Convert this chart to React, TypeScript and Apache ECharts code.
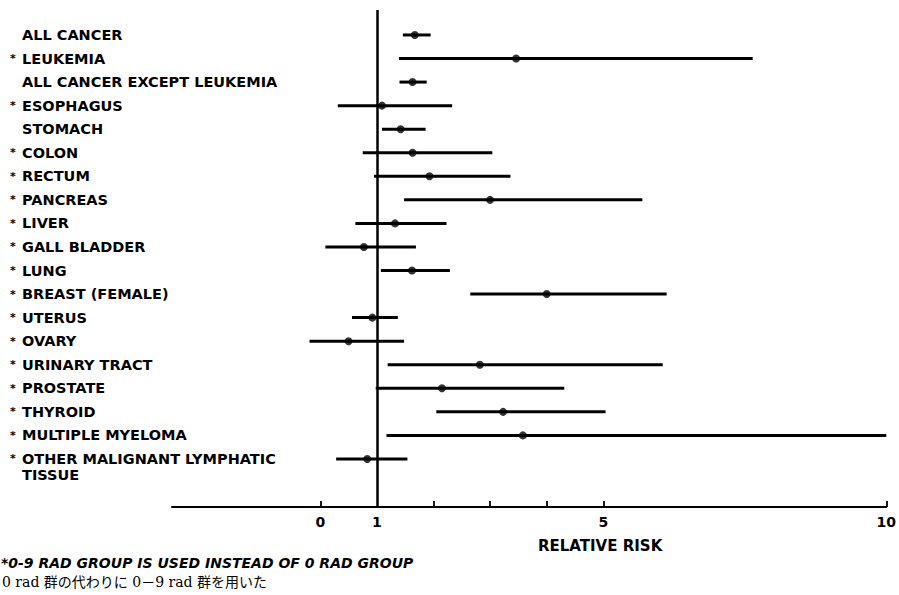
import React, { useEffect, useRef } from "react";
import * as echarts from "echarts";

const categories = [
  "ALL CANCER",
  "LEUKEMIA",
  "ALL CANCER EXCEPT LEUKEMIA",
  "ESOPHAGUS",
  "STOMACH",
  "COLON",
  "RECTUM",
  "PANCREAS",
  "LIVER",
  "GALL BLADDER",
  "LUNG",
  "BREAST (FEMALE)",
  "UTERUS",
  "OVARY",
  "URINARY TRACT",
  "PROSTATE",
  "THYROID",
  "MULTIPLE MYELOMA",
  "OTHER MALIGNANT LYMPHATIC\nTISSUE",
];
const starred = [false, true, false, true, false, true, true, true, true, true, true, true, true, true, true, true, true, true, true];
const estimate = [1.67, 3.46, 1.63, 1.09, 1.42, 1.63, 1.93, 3.0, 1.32, 0.77, 1.62, 4.0, 0.92, 0.5, 2.82, 2.15, 3.23, 3.58, 0.83];
const lower = [1.46, 1.39, 1.4, 0.31, 1.09, 0.75, 0.95, 1.48, 0.62, 0.09, 1.07, 2.65, 0.56, -0.19, 1.19, 0.98, 2.05, 1.17, 0.28];
const upper = [1.95, 7.64, 1.88, 2.33, 1.86, 3.04, 3.36, 5.69, 2.23, 1.69, 2.29, 6.12, 1.37, 1.48, 6.05, 4.31, 5.04, 10.0, 1.54];
const xTickValues = [0, 2, 3, 4, 5, 10];
const xLabelValues = [0, 1, 5, 10];
const referenceValue = 1;
const xAxisTitle = "RELATIVE RISK";
const footnoteEn = "*0-9 RAD GROUP IS USED INSTEAD OF 0 RAD GROUP";
const footnoteJa = "0 rad 群の代わりに 0－9 rad 群を用いた";

const FONT = '"DejaVu Sans", "Liberation Sans", Arial, sans-serif';
const LINE_STEP = 0.68; // wrapped label line offset, in row units
const Y_MIN = -1.06;
const Y_MAX = 20.04;
const TICK_LEN = 0.26; // tick length in row units

export default function App() {
  const ref = useRef<HTMLDivElement>(null);
  useEffect(() => {
    if (!ref.current) return;
    const chart = echarts.init(ref.current, null, { renderer: "svg" });
    const labelValues: number[] = [];
    const labelTexts: Record<string, string> = {};
    categories.forEach((name, i) => {
      name.split("\n").forEach((line, k) => {
        const v = +(i + k * LINE_STEP).toFixed(3);
        labelValues.push(v);
        const star = k === 0 && starred[i] ? "{a|*}" : "{a| }";
        labelTexts[String(v)] = star + "{n|" + line + "}";
      });
    });
    // empty end label so the min/max overlap fix never hides a wrapped line
    labelValues.push(19.9);
    const tickLines = xTickValues.map((v) => [
      { coord: [v, Y_MAX], lineStyle: { width: 1.8 } },
      { coord: [v, Y_MAX - TICK_LEN] },
    ]);
    const option: any = {
      animation: false,
      backgroundColor: "#ffffff",
      title: [
        {
          text: footnoteEn,
          left: 1,
          top: 556,
          textStyle: { fontFamily: FONT, fontSize: 14, fontWeight: "bold", fontStyle: "italic", color: "#000" },
          padding: 0,
        },
        {
          text: footnoteJa,
          left: 2,
          top: 575,
          textStyle: { fontFamily: '"DejaVu Serif", "Noto Sans CJK JP", serif', fontSize: 14, fontWeight: "normal", color: "#000" },
          padding: 0,
        },
      ],
      grid: { left: 172, right: 6, top: 10, bottom: 88, containLabel: false },
      xAxis: {
        type: "value",
        min: -2.62,
        max: 10,
        name: xAxisTitle,
        nameLocation: "middle",
        nameGap: 31,
        nameTextStyle: { fontFamily: FONT, fontSize: 15, fontWeight: "bold", color: "#000", padding: [0, 0, 0, 142] },
        axisLine: { show: true, onZero: false, lineStyle: { color: "#000", width: 2 } },
        axisTick: { show: false },
        axisLabel: {
          show: true,
          customValues: xLabelValues,
          margin: 8,
          fontFamily: FONT,
          fontSize: 14,
          fontWeight: "bold",
          color: "#000",
          showMinLabel: true,
          showMaxLabel: true,
        },
        splitLine: { show: false },
      },
      yAxis: {
        type: "value",
        inverse: true,
        min: Y_MIN,
        max: Y_MAX,
        axisLine: { show: false },
        axisTick: { show: false },
        splitLine: { show: false },
        axisLabel: {
          show: true,
          customValues: labelValues,
          showMinLabel: true,
          showMaxLabel: true,
          hideOverlap: false,
          align: "left",
          margin: 162,
          lineHeight: 12,
          formatter: (v: number) => labelTexts[String(+v.toFixed(3))] || "",
          rich: {
            a: { width: 12, align: "left", fontFamily: FONT, fontSize: 11, fontWeight: "bold", color: "#000", lineHeight: 12 },
            n: { fontFamily: FONT, fontSize: 14.5, fontWeight: "bold", color: "#000", lineHeight: 12 },
          },
        },
      },
      series: [
        {
          type: "custom",
          data: lower.map((l, i) => [l, upper[i], i]),
          encode: { x: [0, 1], y: 2 },
          renderItem: (params: any, api: any) => {
            const a = api.coord([api.value(0), api.value(2)]);
            const b = api.coord([api.value(1), api.value(2)]);
            return {
              type: "line",
              shape: { x1: a[0], y1: a[1], x2: b[0], y2: b[1] },
              style: { stroke: "#000", lineWidth: 3 },
            };
          },
          silent: true,
          z: 2,
        },
        {
          type: "scatter",
          data: estimate.map((v, i) => [v, i]),
          symbol: "circle",
          symbolSize: 8,
          itemStyle: { color: "#000" },
          z: 3,
          markLine: {
            silent: true,
            symbol: ["none", "none"],
            label: { show: false },
            lineStyle: { color: "#000", width: 2.5, type: "solid" },
            data: [{ xAxis: referenceValue }, ...tickLines],
          },
        },
      ],
    };
    chart.setOption(option);
    return () => chart.dispose();
  }, []);
  return (
    <div
      ref={ref}
      style={{ position: "fixed", left: 0, top: 0, width: 899, height: 595, background: "#fff" }}
    />
  );
}
